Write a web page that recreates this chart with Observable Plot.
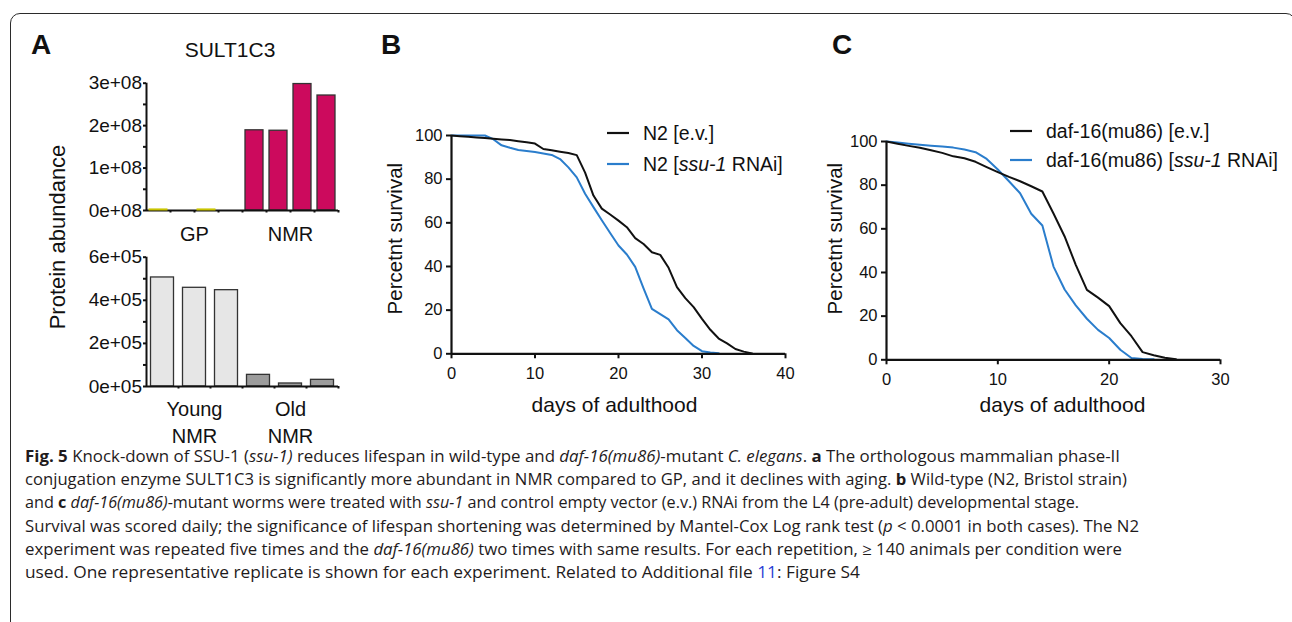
<!DOCTYPE html>
<html>
<head>
<meta charset="utf-8">
<script src="https://cdn.jsdelivr.net/npm/d3@7"></script>
<script src="https://cdn.jsdelivr.net/npm/@observablehq/plot@0.6"></script>
<style>
html,body{margin:0;padding:0;background:#fff;}
#fig{position:relative;width:1292px;height:622px;overflow:hidden;font-family:'Liberation Sans',Arial,Helvetica,sans-serif;color:#111;}
#frame{position:absolute;left:10px;top:13px;width:1286px;height:720px;border:1.5px solid #2b2b2b;border-radius:10px;box-sizing:border-box;}
.pl{position:absolute;}
.plabel{position:absolute;font-weight:bold;font-size:28px;line-height:28px;}
.title{position:absolute;font-size:21px;line-height:21px;transform:translateX(-50%);white-space:nowrap;}
.ylab{position:absolute;white-space:nowrap;line-height:1;transform:translate(-50%,-50%) rotate(-90deg);}
.leg{position:absolute;display:flex;align-items:center;height:24px;font-size:19.5px;white-space:nowrap;}
.leg svg{margin-right:14px;}
.cap{position:absolute;left:25px;white-space:nowrap;font-family:'Open Sans',sans-serif;font-size:15.8px;line-height:23.2px;color:#1f1b1c;transform-origin:0 50%;}
</style>
</head>
<body>
<div id="fig">
  <div id="frame"></div>
  <div class="pl" id="pA1" style="left:0;top:60px;"></div>
  <div class="pl" id="pA2" style="left:0;top:240px;"></div>
  <div class="pl" id="pB" style="left:360px;top:100px;"></div>
  <div class="pl" id="pC" style="left:790px;top:100px;"></div>
  <div class="plabel" style="left:31px;top:31px;">A</div>
  <div class="plabel" style="left:381px;top:31px;">B</div>
  <div class="plabel" style="left:832px;top:31px;">C</div>
  <div class="title" style="left:230px;top:39px;">SULT1C3</div>
  <div class="ylab" style="left:58px;top:237px;font-size:22px;">Protein abundance</div>
  <div id="legB"></div>
  <div id="legC"></div>
  <div id="caption"></div>
</div>
<script>
// ---------- Panel A data ----------
const gpValues = [2.5e6, 0, 2.5e6, 0];
const nmrValues = [1.89e8, 1.88e8, 2.98e8, 2.71e8];
const topTicks = [0, 1e8, 2e8, 3e8];
const topTickLabels = ["0e+08", "1e+08", "2e+08", "3e+08"];
const topMinorTicks = [0.5e8, 1.5e8, 2.5e8];
const youngValues = [5.06e5, 4.58e5, 4.47e5];
const oldValues = [0.54e5, 0.14e5, 0.31e5];
const bottomTicks = [0, 2e5, 4e5, 6e5];
const bottomTickLabels = ["0e+05", "2e+05", "4e+05", "6e+05"];
const bottomMinorTicks = [1e5, 3e5, 5e5];

// ---------- Panel B data (percent survival per day) ----------
const bTicksX = [0, 10, 20, 30, 40];
const survTicksY = [0, 20, 40, 60, 80, 100];
const n2EV = [100, 99.7, 99.4, 99.1, 98.8, 98.5, 98.2, 97.9, 97.4, 96.9, 96.3, 93.8, 93.2, 92.6, 92.0, 91.0,
  83.0, 72.5, 66.5, 63.8, 61.0, 58.0, 53.0, 50.3, 46.5, 45.3, 39.4, 30.5, 25.5, 21.4, 16.0, 11.0, 7.0, 4.8, 2.2, 1.0, 0.2];
const n2RNAi = [100, 100, 100, 100, 100, 98.3, 95.5, 94.4, 93.4, 92.9, 92.4, 91.8, 91.1, 89.2, 85.4, 80.8,
  73.3, 67.2, 61.2, 55.3, 49.6, 45.5, 39.8, 30.0, 20.6, 18.2, 15.8, 10.8, 7.2, 3.6, 1.2, 0.6, 0.2];

// ---------- Panel C data ----------
const cTicksX = [0, 10, 20, 30];
const dafEV = [100, 99.0, 98.0, 97.1, 96.0, 94.8, 93.2, 92.3, 90.7, 88.3, 86.0, 83.8, 81.8, 79.5, 77.1,
  67.0, 56.5, 43.5, 32.0, 28.5, 24.6, 16.8, 10.8, 3.5, 2.1, 0.9, 0.2];
const dafRNAi = [100, 99.5, 99.0, 98.5, 98.1, 97.7, 97.2, 96.3, 95.1, 92.0, 87.2, 81.8, 76.3, 66.9, 61.5,
  42.7, 32.2, 24.9, 18.8, 13.7, 10.0, 4.6, 0.8, 0.4, 0.2];

// ---------- styles ----------
const FONT = "'Liberation Sans', Arial, Helvetica, sans-serif";
const gpColor = "#c9c400";
const nmrColor = "#cc0a5d";
const youngColor = "#e6e6e6";
const oldColor = "#9c9c9c";
const barStroke = "#333";
const evColor = "#111";
const rnaiColor = "#2a7dcc";

// ---------- Panel A top ----------
const topBars = [
  ...gpValues.map((v, k) => ({i: k, v, group: "GP"})),
  ...nmrValues.map((v, k) => ({i: gpValues.length + k, v, group: "NMR"}))
];
const topGroups = [
  {name: "GP", center: gpValues.length / 2},
  {name: "NMR", center: gpValues.length + nmrValues.length / 2}
];
const plotA1 = Plot.plot({
  width: 360, height: 190,
  marginLeft: 146, marginRight: 22, marginTop: 22.7, marginBottom: 40,
  x: {domain: [0, topBars.length]},
  y: {domain: [0, 3e8]},
  style: {fontFamily: FONT, fontSize: "19px", color: "#111", background: "transparent", overflow: "visible"},
  marks: [
    Plot.rectY(topBars.filter(d => d.group === "NMR"), {x1: "i", x2: d => d.i + 1, y: "v", insetLeft: 3, insetRight: 3, fill: nmrColor, stroke: barStroke, strokeWidth: 1.3}),
    Plot.ruleY([0], {strokeWidth: 2}),
    Plot.ruleX([0], {strokeWidth: 2}),
    Plot.rectY(topBars.filter(d => d.group === "GP"), {x1: "i", x2: d => d.i + 1, y1: 0, y2: "v", insetLeft: 3, insetRight: 3, fill: gpColor, stroke: gpColor, strokeWidth: 1}),
    Plot.axisY({ticks: topTicks, tickFormat: d => topTickLabels[topTicks.indexOf(d)], tickSize: 3, tickPadding: 1.5, strokeWidth: 2, fontSize: 19, label: null}),
    Plot.axisY({ticks: topMinorTicks, tickFormat: () => "", tickSize: 3, strokeWidth: 2, label: null}),
    Plot.axisX({ticks: d3.range(1, topBars.length + 1), tickFormat: () => "", tickSize: 2.5, strokeWidth: 2, label: null}),
    Plot.text(topGroups, {x: "center", text: "name", frameAnchor: "bottom", lineAnchor: "top", dy: 16, fontSize: 20})
  ]
});
document.getElementById("pA1").appendChild(plotA1);

// ---------- Panel A bottom ----------
const bottomBars = [
  ...youngValues.map((v, k) => ({i: k, v, group: "Young"})),
  ...oldValues.map((v, k) => ({i: youngValues.length + k, v, group: "Old"}))
];
const bottomGroups = [
  {name: "Young\nNMR", center: youngValues.length / 2},
  {name: "Old\nNMR", center: youngValues.length + oldValues.length / 2}
];
const plotA2 = Plot.plot({
  width: 360, height: 210,
  marginLeft: 146, marginRight: 22, marginTop: 16.7, marginBottom: 64,
  x: {domain: [0, bottomBars.length]},
  y: {domain: [0, 6e5]},
  style: {fontFamily: FONT, fontSize: "19px", color: "#111", background: "transparent", overflow: "visible"},
  marks: [
    Plot.rectY(bottomBars, {x1: "i", x2: d => d.i + 1, y: "v", insetLeft: 4.5, insetRight: 4.5,
      fill: d => d.group === "Young" ? youngColor : oldColor, stroke: barStroke, strokeWidth: 1.3}),
    Plot.ruleY([0], {strokeWidth: 2}),
    Plot.ruleX([0], {strokeWidth: 2}),
    Plot.axisY({ticks: bottomTicks, tickFormat: d => bottomTickLabels[bottomTicks.indexOf(d)], tickSize: 3, tickPadding: 1.5, strokeWidth: 2, fontSize: 19, label: null}),
    Plot.axisY({ticks: bottomMinorTicks, tickFormat: () => "", tickSize: 3, strokeWidth: 2, label: null}),
    Plot.axisX({ticks: d3.range(1, bottomBars.length + 1), tickFormat: () => "", tickSize: 2.5, strokeWidth: 2, label: null}),
    Plot.text(bottomGroups, {x: "center", text: "name", frameAnchor: "bottom", lineAnchor: "top", dy: 10.5, lineHeight: 1.35, fontSize: 20})
  ]
});
document.getElementById("pA2").appendChild(plotA2);

// ---------- survival plot factory ----------
function survivalPlot({width, height, ml, mr, mt, mb, xTicks, evData, rnaiData, tickPad, xlabDy, xlabDx, ylabDx, ylabDy}) {
  const ev = evData.map((p, day) => ({day, p}));
  const rn = rnaiData.map((p, day) => ({day, p}));
  return Plot.plot({
    width, height, marginLeft: ml, marginRight: mr, marginTop: mt, marginBottom: mb,
    x: {domain: [xTicks[0], xTicks[xTicks.length - 1]]},
    y: {domain: [0, 100]},
    style: {fontFamily: FONT, fontSize: "16.5px", color: "#111", background: "transparent", overflow: "visible"},
    marks: [
      Plot.line(rn, {x: "day", y: "p", stroke: rnaiColor, strokeWidth: 2}),
      Plot.line(ev, {x: "day", y: "p", stroke: evColor, strokeWidth: 2}),
      Plot.ruleX([xTicks[0]], {strokeWidth: 2.2}),
      Plot.ruleY([0], {strokeWidth: 2.2}),
      Plot.axisX({ticks: xTicks, tickSize: 5, tickPadding: tickPad, strokeWidth: 2, fontSize: 16.5, label: null}),
      Plot.axisY({ticks: survTicksY, tickSize: 5, tickPadding: 4, strokeWidth: 2, fontSize: 16.5, label: null}),
      Plot.text(["days of adulthood"], {text: d => d, frameAnchor: "bottom", lineAnchor: "top", dy: xlabDy, dx: xlabDx, fontSize: 21}),
      Plot.text(["Percetnt survival"], {text: d => d, frameAnchor: "left", textAnchor: "middle", lineAnchor: "middle", rotate: -90, dx: ylabDx, dy: ylabDy, fontSize: 20.5})
    ]
  });
}

const plotB = survivalPlot({width: 450, height: 330, ml: 91, mr: 25, mt: 35, mb: 76.7,
  xTicks: bTicksX, evData: n2EV, rnaiData: n2RNAi, tickPad: 8, xlabDy: 43, xlabDx: -4, ylabDx: -56, ylabDy: -6});
document.getElementById("pB").appendChild(plotB);

const plotC = survivalPlot({width: 460, height: 330, ml: 96, mr: 30, mt: 41, mb: 70.7,
  xTicks: cTicksX, evData: dafEV, rnaiData: dafRNAi, tickPad: 8.5, xlabDy: 37.5, xlabDx: 9, ylabDx: -51, ylabDy: -12});
document.getElementById("pC").appendChild(plotC);

// ---------- legends ----------
function legend(id, lineLeft, rows) {
  const el = document.getElementById(id);
  rows.forEach(r => {
    const row = document.createElement("div");
    row.className = "leg";
    row.style.left = lineLeft + "px";
    row.style.top = (r.cy - 12) + "px";
    row.innerHTML = `<svg width="22" height="4"><line x1="0" x2="22" y1="2" y2="2" stroke="${r.color}" stroke-width="2.2"/></svg><span>${r.html}</span>`;
    el.appendChild(row);
  });
}
legend("legB", 607, [
  {cy: 133, color: evColor, html: "N2 [e.v.]"},
  {cy: 164, color: rnaiColor, html: "N2 [<i>ssu-1</i> RNAi]"}
]);
legend("legC", 1010, [
  {cy: 131, color: evColor, html: "daf-16(mu86) [e.v.]"},
  {cy: 160, color: rnaiColor, html: "daf-16(mu86) [<i>ssu-1</i> RNAi]"}
]);

// ---------- caption ----------
const captionLines = [
  "<b>Fig. 5</b> Knock-down of SSU-1 (<i>ssu-1)</i> reduces lifespan in wild-type and <i>daf-16(mu86)</i>-mutant <i>C. elegans</i>. <b>a</b> The orthologous mammalian phase-II",
  "conjugation enzyme SULT1C3 is significantly more abundant in NMR compared to GP, and it declines with aging. <b>b</b> Wild-type (N2, Bristol strain)",
  "and <b>c</b> <i>daf-16(mu86)</i>-mutant worms were treated with <i>ssu-1</i> and control empty vector (e.v.) RNAi from the L4 (pre-adult) developmental stage.",
  "Survival was scored daily; the significance of lifespan shortening was determined by Mantel-Cox Log rank test (<i>p</i> &lt; 0.0001 in both cases). The N2",
  "experiment was repeated five times and the <i>daf-16(mu86)</i> two times with same results. For each repetition, ≥ 140 animals per condition were",
  "used. One representative replicate is shown for each experiment. Related to Additional file <span style=\"color:#2b3fd6\">11</span>: Figure S4"
];
const captionRightEdges = [1120, 1127, 1079, 1139, 1122, 860];
const cap = document.getElementById("caption");
captionLines.forEach((h, k) => {
  const d = document.createElement("div");
  d.className = "cap";
  d.style.top = (445 + k * 23.2) + "px";
  d.innerHTML = h;
  cap.appendChild(d);
});
function fitCaption() {
  cap.querySelectorAll(".cap").forEach((d, k) => {
    d.style.transform = "none";
    const w = d.getBoundingClientRect().width;
    d.style.transform = `scaleX(${(captionRightEdges[k] - 25) / w})`;
  });
}
fitCaption();
if (document.fonts && document.fonts.ready) document.fonts.ready.then(fitCaption);
</script>
</body>
</html>
